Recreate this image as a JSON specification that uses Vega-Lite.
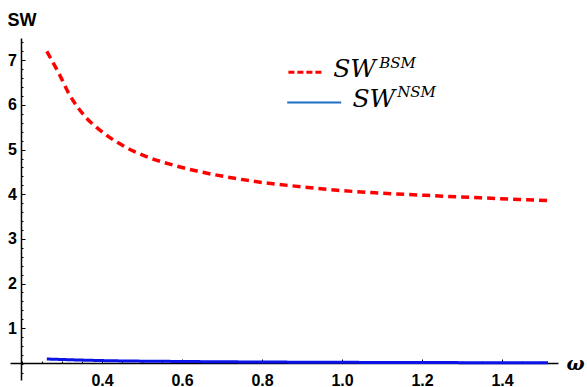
{
  "$schema": "https://vega.github.io/schema/vega-lite/v6.json",
  "width": 548,
  "height": 342,
  "autosize": {"type": "none"},
  "padding": {"left": 10, "top": 38, "right": 29, "bottom": 7},
  "background": "white",
  "config": {
    "view": {"stroke": null},
    "axis": {
      "grid": false,
      "domainColor": "black",
      "tickColor": "black",
      "labelColor": "black",
      "labelFont": "Liberation Sans",
      "labelFontWeight": "bold",
      "labelFontSize": 16,
      "titleColor": "black"
    }
  },
  "datasets": {
    "curves": [
      {"series": "BSM", "omega": 0.262, "sw": 7.2},
      {"series": "BSM", "omega": 0.292, "sw": 6.71},
      {"series": "BSM", "omega": 0.317, "sw": 6.26},
      {"series": "BSM", "omega": 0.354, "sw": 5.78},
      {"series": "BSM", "omega": 0.4, "sw": 5.4},
      {"series": "BSM", "omega": 0.454, "sw": 5.08},
      {"series": "BSM", "omega": 0.5125, "sw": 4.84},
      {"series": "BSM", "omega": 0.579, "sw": 4.65},
      {"series": "BSM", "omega": 0.637, "sw": 4.52},
      {"series": "BSM", "omega": 0.704, "sw": 4.4},
      {"series": "BSM", "omega": 0.804, "sw": 4.26},
      {"series": "BSM", "omega": 0.896, "sw": 4.17},
      {"series": "BSM", "omega": 0.988, "sw": 4.09},
      {"series": "BSM", "omega": 1.088, "sw": 4.03},
      {"series": "BSM", "omega": 1.221, "sw": 3.97},
      {"series": "BSM", "omega": 1.346, "sw": 3.92},
      {"series": "BSM", "omega": 1.515, "sw": 3.86},
      {"series": "NSM", "omega": 0.262, "sw": 0.31},
      {"series": "NSM", "omega": 0.4, "sw": 0.275},
      {"series": "NSM", "omega": 0.6, "sw": 0.255},
      {"series": "NSM", "omega": 0.8, "sw": 0.243},
      {"series": "NSM", "omega": 1.0, "sw": 0.236},
      {"series": "NSM", "omega": 1.25, "sw": 0.23},
      {"series": "NSM", "omega": 1.515, "sw": 0.225}
    ],
    "one": [{}]
  },
  "resolve": {"axis": {"x": "independent", "y": "independent"}},
  "layer": [
    {
      "data": {"name": "curves"},
      "mark": {"type": "line", "interpolate": "monotone", "strokeCap": "butt"},
      "encoding": {
        "x": {
          "field": "omega", "type": "quantitative",
          "scale": {"domain": [0.17, 1.54], "nice": false, "zero": false},
          "axis": {
            "orient": "bottom", "offset": -17,
            "values": [0.4, 0.6, 0.8, 1.0, 1.2, 1.4],
            "format": ".1f",
            "tickSize": -4, "tickWidth": 1, "labelPadding": 13,
            "domainWidth": 1.5,
            "title": "ω",
            "titleFont": "DejaVu Serif", "titleFontStyle": "italic", "titleFontWeight": "bold", "titleFontSize": 19,
            "titleAngle": 0, "titleAlign": "left", "titleBaseline": "alphabetic",
            "titleX": 556, "titleY": 6
          }
        },
        "y": {
          "field": "sw", "type": "quantitative",
          "scale": {"domain": [-0.16, 7.5], "nice": false, "zero": false},
          "axis": {
            "orient": "left", "offset": -11,
            "values": [1, 2, 3, 4, 5, 6, 7],
            "tickSize": -4, "tickWidth": 1, "labelPadding": 8.5,
            "domainWidth": 1.5,
            "title": "SW",
            "titleFont": "Liberation Sans", "titleFontWeight": "bold", "titleFontSize": 18,
            "titleAngle": 0, "titleAlign": "left", "titleBaseline": "alphabetic",
            "titleX": -14, "titleY": -13
          }
        },
        "color": {"field": "series", "type": "nominal", "scale": {"domain": ["BSM", "NSM"], "range": ["#ff0000", "#0a14e6"]}, "legend": null},
        "strokeDash": {"field": "series", "type": "nominal", "scale": {"domain": ["BSM", "NSM"], "range": [[8, 5], [1, 0]]}, "legend": null},
        "strokeWidth": {"field": "series", "type": "nominal", "scale": {"domain": ["BSM", "NSM"], "range": [3.5, 3]}, "legend": null}
      }
    },
    {
      "data": {"name": "curves"},
      "mark": {"type": "point", "opacity": 0},
      "encoding": {
        "x": {
          "field": "omega", "type": "quantitative",
          "axis": {
            "orient": "bottom", "offset": -17, "domain": false, "labels": false, "title": null,
            "values": [0.2, 0.25, 0.3, 0.35, 0.45, 0.5, 0.55, 0.65, 0.7, 0.75, 0.85, 0.9, 0.95, 1.05, 1.1, 1.15, 1.25, 1.3, 1.35, 1.45, 1.5],
            "tickSize": -2, "tickWidth": 1
          }
        },
        "y": {
          "field": "sw", "type": "quantitative",
          "axis": {
            "orient": "left", "offset": -11, "domain": false, "labels": false, "title": null,
            "values": [0, 0.2, 0.4, 0.6, 0.8, 1.2, 1.4, 1.6, 1.8, 2.2, 2.4, 2.6, 2.8, 3.2, 3.4, 3.6, 3.8, 4.2, 4.4, 4.6, 4.8, 5.2, 5.4, 5.6, 5.8, 6.2, 6.4, 6.6, 6.8, 7.2, 7.4],
            "tickSize": -2, "tickWidth": 1
          }
        }
      }
    },
    {
      "data": {"name": "one"},
      "mark": {"type": "rule", "color": "#ff0000", "strokeWidth": 3, "strokeDash": [6, 3]},
      "encoding": {"x": {"datum": 0.866, "type": "quantitative", "axis": null}, "x2": {"datum": 0.951}, "y": {"datum": 6.733, "type": "quantitative", "axis": null}}
    },
    {
      "data": {"name": "one"},
      "mark": {"type": "rule", "color": "#1f6fc5", "strokeWidth": 2},
      "encoding": {"x": {"datum": 0.863, "type": "quantitative", "axis": null}, "x2": {"datum": 0.998}, "y": {"datum": 6.053, "type": "quantitative", "axis": null}}
    },
    {
      "data": {"name": "one"},
      "mark": {"type": "text", "text": "SW", "font": "DejaVu Serif", "fontStyle": "italic", "fontSize": 25, "align": "left", "baseline": "alphabetic", "color": "black"},
      "encoding": {"x": {"datum": 0.978, "type": "quantitative", "axis": null}, "y": {"datum": 6.63, "type": "quantitative", "axis": null}}
    },
    {
      "data": {"name": "one"},
      "mark": {"type": "text", "text": "BSM", "font": "DejaVu Serif", "fontStyle": "italic", "fontSize": 15, "align": "left", "baseline": "alphabetic", "color": "black"},
      "encoding": {"x": {"datum": 1.093, "type": "quantitative", "axis": null}, "y": {"datum": 6.83, "type": "quantitative", "axis": null}}
    },
    {
      "data": {"name": "one"},
      "mark": {"type": "text", "text": "SW", "font": "DejaVu Serif", "fontStyle": "italic", "fontSize": 25, "align": "left", "baseline": "alphabetic", "color": "black"},
      "encoding": {"x": {"datum": 1.026, "type": "quantitative", "axis": null}, "y": {"datum": 5.957, "type": "quantitative", "axis": null}}
    },
    {
      "data": {"name": "one"},
      "mark": {"type": "text", "text": "NSM", "font": "DejaVu Serif", "fontStyle": "italic", "fontSize": 15, "align": "left", "baseline": "alphabetic", "color": "black"},
      "encoding": {"x": {"datum": 1.138, "type": "quantitative", "axis": null}, "y": {"datum": 6.177, "type": "quantitative", "axis": null}}
    }
  ]
}
